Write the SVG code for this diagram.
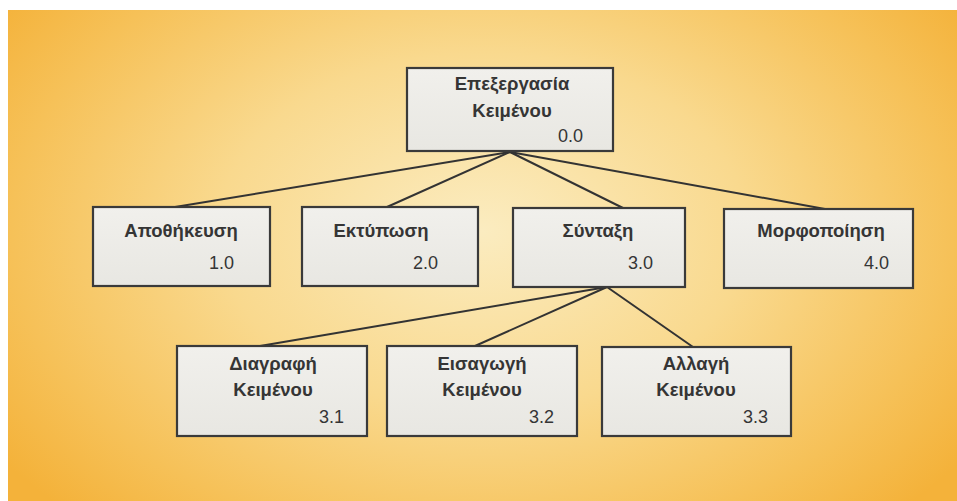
<svg xmlns="http://www.w3.org/2000/svg" width="957" height="501" viewBox="0 0 957 501">
  <defs>
    <radialGradient id="bg" cx="0.5" cy="0.45" r="0.62" gradientTransform="translate(0.5 0.45) scale(1 1.3) translate(-0.5 -0.45)">
      <stop offset="0" stop-color="#fbecc0"/>
      <stop offset="0.45" stop-color="#f9d98e"/>
      <stop offset="0.8" stop-color="#f6c158"/>
      <stop offset="1" stop-color="#f4b23a"/>
    </radialGradient>
    <linearGradient id="boxfill" x1="0" y1="0" x2="0" y2="1">
      <stop offset="0" stop-color="#f1f0ec"/>
      <stop offset="1" stop-color="#e8e7e2"/>
    </linearGradient>
  </defs>
  <style>
    .box { fill: url(#boxfill); stroke: #3a3a3a; stroke-width: 2.2; }
    .shadow { fill: #5a4a30; opacity: 0.35; }
    .lbl { font-family: "Liberation Sans", Arial, sans-serif; font-weight: bold; font-size: 18.5px; fill: #353535; text-anchor: middle; }
    .num { font-family: "Liberation Sans", Arial, sans-serif; font-size: 18px; fill: #353535; text-anchor: end; }
    .conn { stroke: #333333; stroke-width: 2; fill: none; stroke-linecap: round; }
  </style>
  <rect x="0" y="0" width="957" height="501" fill="#ffffff"/>
  <rect x="8" y="10" width="949" height="491" fill="url(#bg)"/>

  <g id="connectors">
    <line class="conn" x1="510" y1="152" x2="175" y2="207"/>
    <line class="conn" x1="510" y1="152" x2="387" y2="207"/>
    <line class="conn" x1="510" y1="152" x2="623" y2="208"/>
    <line class="conn" x1="510" y1="152" x2="825" y2="209"/>
    <line class="conn" x1="607" y1="287" x2="260" y2="346"/>
    <line class="conn" x1="607" y1="287" x2="475" y2="346"/>
    <line class="conn" x1="607" y1="287" x2="693" y2="347"/>
  </g>

  <g id="n00">
    <rect class="box" x="407" y="68" width="206" height="83"/>
    <text class="lbl" x="512" y="90">Επεξεργασία</text>
    <text class="lbl" x="512" y="117">Κειμένου</text>
    <text class="num" x="583" y="142">0.0</text>
  </g>
  <g id="n10">
    <rect class="box" x="93" y="207" width="177" height="79"/>
    <text class="lbl" x="181" y="237">Αποθήκευση</text>
    <text class="num" x="234" y="269">1.0</text>
  </g>
  <g id="n20">
    <rect class="box" x="302" y="207" width="176" height="79"/>
    <text class="lbl" x="381" y="237">Εκτύπωση</text>
    <text class="num" x="438" y="269">2.0</text>
  </g>
  <g id="n30">
    <rect class="box" x="513" y="208" width="172" height="79"/>
    <text class="lbl" x="598" y="237">Σύνταξη</text>
    <text class="num" x="653" y="269">3.0</text>
  </g>
  <g id="n40">
    <rect class="box" x="724" y="209" width="189" height="79"/>
    <text class="lbl" x="821" y="237">Μορφοποίηση</text>
    <text class="num" x="889" y="269">4.0</text>
  </g>
  <g id="n31">
    <rect class="box" x="177" y="346" width="190" height="90"/>
    <text class="lbl" x="273" y="370">Διαγραφή</text>
    <text class="lbl" x="273" y="396">Κειμένου</text>
    <text class="num" x="344" y="423">3.1</text>
  </g>
  <g id="n32">
    <rect class="box" x="387" y="346" width="190" height="90"/>
    <text class="lbl" x="482" y="370">Εισαγωγή</text>
    <text class="lbl" x="482" y="396">Κειμένου</text>
    <text class="num" x="554" y="423">3.2</text>
  </g>
  <g id="n33">
    <rect class="box" x="602" y="347" width="189" height="89"/>
    <text class="lbl" x="696" y="370">Αλλαγή</text>
    <text class="lbl" x="696" y="396">Κειμένου</text>
    <text class="num" x="768" y="423">3.3</text>
  </g>
</svg>
